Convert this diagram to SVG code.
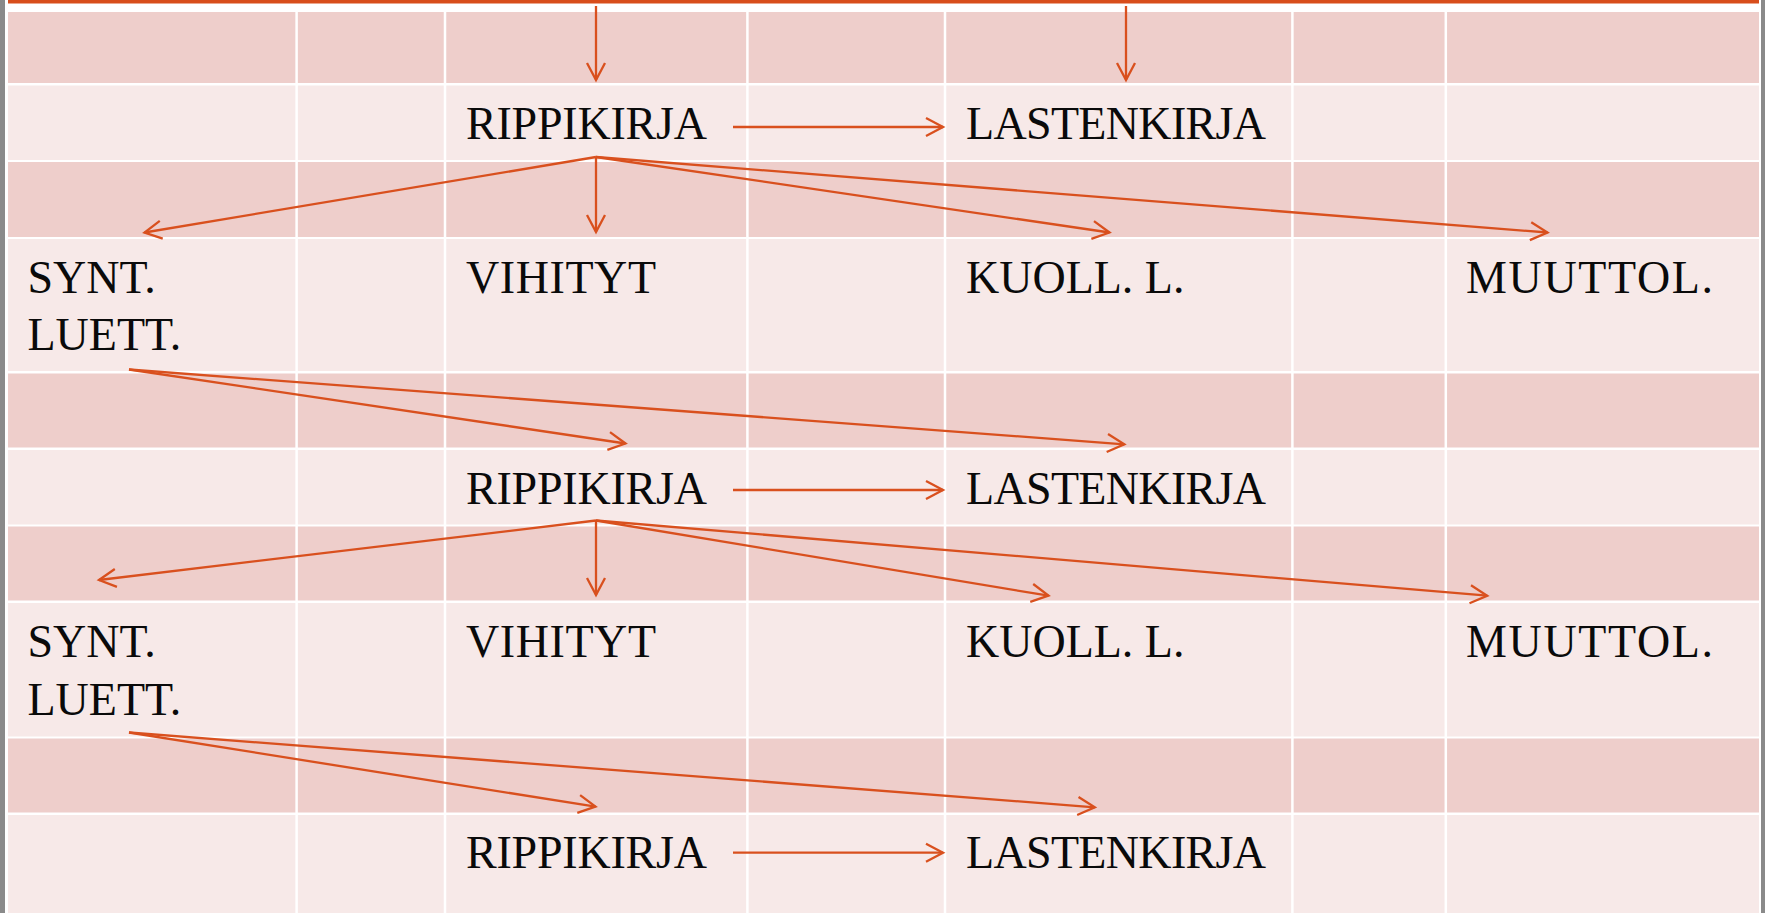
<svg xmlns="http://www.w3.org/2000/svg" width="1765" height="913" viewBox="0 0 1765 913">
<defs>
<style>
.dark{fill:#EECECB}
.light{fill:#F7E9E8}
.vl{stroke:#FFFFFF;stroke-width:2.5}
.lbl{font-family:"Liberation Serif","Times New Roman",serif;font-size:46px;fill:#0A0A0A}
.con{stroke:#D9501E;stroke-width:2.3;fill:none;marker-end:url(#ah)}
</style>
<marker id="ah" markerUnits="userSpaceOnUse" markerWidth="24" markerHeight="24" viewBox="-20 -12 24 24" refX="0" refY="0" orient="auto">
<path d="M-17,-9 L0,0 L-17,9" fill="none" stroke="#D9501E" stroke-width="2.3"/>
</marker>
</defs>
<rect x="0" y="0" width="1765" height="913" fill="#FFFFFF"/>
<rect x="0" y="0" width="5" height="913" fill="#8A8A8A"/>
<rect x="1761" y="0" width="4" height="913" fill="#8A8A8A"/>
<rect x="8" y="0" width="1751" height="3.5" fill="#D84E1C"/>
<g id="table">
<rect class="dark" x="8" y="12" width="1751" height="71"/>
<rect class="light" x="8" y="85.5" width="1751" height="74.5"/>
<rect class="dark" x="8" y="162" width="1751" height="75"/>
<rect class="light" x="8" y="239" width="1751" height="132"/>
<rect class="dark" x="8" y="373.5" width="1751" height="74"/>
<rect class="light" x="8" y="450" width="1751" height="74.5"/>
<rect class="dark" x="8" y="526.5" width="1751" height="74"/>
<rect class="light" x="8" y="603" width="1751" height="133.5"/>
<rect class="dark" x="8" y="738.5" width="1751" height="74"/>
<rect class="light" x="8" y="815" width="1751" height="98"/>
<line class="vl" x1="296.6" y1="12" x2="296.6" y2="913"/>
<line class="vl" x1="445" y1="12" x2="445" y2="913"/>
<line class="vl" x1="747.4" y1="12" x2="747.4" y2="913"/>
<line class="vl" x1="945" y1="12" x2="945" y2="913"/>
<line class="vl" x1="1292.4" y1="12" x2="1292.4" y2="913"/>
<line class="vl" x1="1445.8" y1="12" x2="1445.8" y2="913"/>
</g>
<g id="n-rippi1"><text class="lbl" x="466" y="139" textLength="241">RIPPIKIRJA</text></g>
<g id="n-lasten1"><text class="lbl" x="966" y="139" textLength="300">LASTENKIRJA</text></g>
<g id="n-synt1"><text class="lbl" x="27.5" y="293">SYNT.</text><text class="lbl" x="27.5" y="350">LUETT.</text></g>
<g id="n-vihi1"><text class="lbl" x="466" y="293" textLength="190">VIHITYT</text></g>
<g id="n-kuoll1"><text class="lbl" x="966" y="293">KUOLL. L.</text></g>
<g id="n-muutt1"><text class="lbl" x="1466" y="293" textLength="247">MUUTTOL.</text></g>
<g id="n-rippi2"><text class="lbl" x="466" y="504" textLength="241">RIPPIKIRJA</text></g>
<g id="n-lasten2"><text class="lbl" x="966" y="504" textLength="300">LASTENKIRJA</text></g>
<g id="n-synt2"><text class="lbl" x="27.5" y="657">SYNT.</text><text class="lbl" x="27.5" y="715">LUETT.</text></g>
<g id="n-vihi2"><text class="lbl" x="466" y="657" textLength="190">VIHITYT</text></g>
<g id="n-kuoll2"><text class="lbl" x="966" y="657">KUOLL. L.</text></g>
<g id="n-muutt2"><text class="lbl" x="1466" y="657" textLength="247">MUUTTOL.</text></g>
<g id="n-rippi3"><text class="lbl" x="466" y="868" textLength="241">RIPPIKIRJA</text></g>
<g id="n-lasten3"><text class="lbl" x="966" y="868" textLength="300">LASTENKIRJA</text></g>
<g id="connectors">
<line class="con" x1="596" y1="6" x2="596" y2="80"/>
<line class="con" x1="1126" y1="6" x2="1126" y2="80"/>
<line class="con" x1="733" y1="127" x2="943" y2="127"/>
<line class="con" x1="596" y1="157" x2="144.5" y2="232.5"/>
<line class="con" x1="596" y1="157" x2="596" y2="232"/>
<line class="con" x1="596" y1="157" x2="1109.5" y2="232.5"/>
<line class="con" x1="596" y1="157" x2="1547.5" y2="232.5"/>
<line class="con" x1="129" y1="369.5" x2="625.5" y2="443.5"/>
<line class="con" x1="129" y1="369.5" x2="1124.3" y2="444.3"/>
<line class="con" x1="733" y1="490" x2="943" y2="490"/>
<line class="con" x1="596" y1="520.5" x2="99" y2="580"/>
<line class="con" x1="596" y1="520.5" x2="596" y2="595"/>
<line class="con" x1="596" y1="520.5" x2="1048.5" y2="595.7"/>
<line class="con" x1="596" y1="520.5" x2="1487.2" y2="595.7"/>
<line class="con" x1="129" y1="732.5" x2="595.5" y2="806.7"/>
<line class="con" x1="129" y1="732.5" x2="1094.8" y2="807.3"/>
<line class="con" x1="733" y1="852.7" x2="943" y2="852.7"/>
</g>
</svg>
